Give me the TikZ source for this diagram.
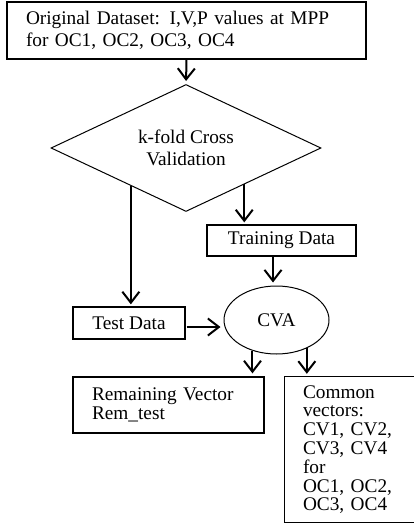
\documentclass[tikz,border=0pt]{standalone}
\usepackage{fontspec}
\setmainfont{Liberation Serif}
\usetikzlibrary{shapes.geometric,arrows.meta,calc}
\begin{document}
\begin{tikzpicture}[x=1pt,y=-1pt,
  txt/.style={font=\fontsize{19.3}{22}\selectfont},
  box/.style={draw,line width=1.3pt,rectangle,inner sep=0pt,txt},
  arr/.style={line width=2pt,-{Straight Barb[length=11pt,width=17pt,line width=2pt]}},
]
\useasboundingbox (0,0) rectangle (414,524);
\clip (0,0) rectangle (414,524);
\node[box, minimum width=359pt, minimum height=57pt, text width=321pt, align=left] (orig) at (186.5,30.5)
  {\makebox[321pt][s]{Original Dataset: I,V,P values at MPP}\\for OC1, OC2, OC3, OC4};
\node[draw, diamond, line width=1pt, inner sep=0pt, minimum width=270pt, minimum height=127pt,
  aspect=2.126, align=center, txt] (kfold) at (186,148) {k-fold Cross\\Validation};
\node[box, minimum width=149pt, minimum height=31pt] (train) at (281.5,240.5) {Training Data};
\node[box, minimum width=112pt, minimum height=32pt] (test) at (129,323) {Test Data};
\node[draw, ellipse, line width=1pt, minimum width=105pt, minimum height=68pt, inner sep=0pt, txt] (cva) at (276.5,320) {CVA};
\node[box, minimum width=191pt, minimum height=56pt, text width=153pt, align=left,
  font=\fontsize{19.3}{18.5}\selectfont] (rem) at (168.5,405) {Remaining Vector\\Rem\_test};
\node[inner sep=0pt, minimum width=145pt, minimum height=145pt, text width=109pt, align=left,
  font=\fontsize{19.3}{18.8}\selectfont] (cv) at (357.5,449.5)
  {Common\\vectors:\\CV1, CV2,\\CV3, CV4\\for\\OC1, OC2,\\OC3, OC4};
\draw[line width=1.3pt] (cv.north west) rectangle ($(cv.south east)+(40,0)$);
\coordinate (d1) at ($(kfold.west)!0.593!(kfold.south)$);
\coordinate (d2) at ($(kfold.south)!0.43!(kfold.east)$);
\coordinate (t1) at ($(train.south)+(-8.5,0)$);
\coordinate (s1) at ($(test.east)+(1,4)$);
\draw[arr, shorten >=3pt] (orig.south) -- (kfold.north);
\draw[arr, shorten >=2pt] (d1) -- (d1 |- test.north);
\draw[arr, shorten >=2pt] (d2) -- (d2 |- train.north);
\draw[arr, shorten >=3pt] (t1) -- (t1 |- cva.north);
\draw[arr, shorten >=3pt] (s1) -- (s1 -| cva.west);
\draw[arr, shorten >=3pt] (cva.-128) -- (cva.-128 |- rem.north);
\draw[arr, shorten >=3pt] (cva.-43) -- (cva.-43 |- cv.north);
\end{tikzpicture}
\end{document}
